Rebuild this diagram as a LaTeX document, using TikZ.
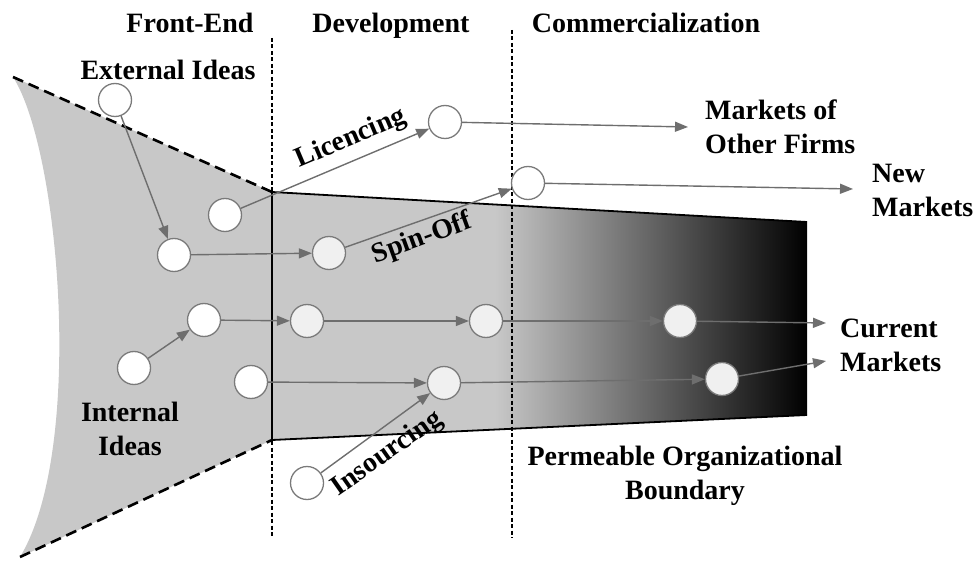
\documentclass[tikz,border=0pt]{standalone}
\usepackage{fontspec}
\setmainfont{Liberation Serif}
\usetikzlibrary{arrows.meta}
\definecolor{funnelgray}{HTML}{C8C8C8}
\definecolor{circgray}{HTML}{7A7A7A}
\definecolor{arrowgray}{HTML}{6E6E6E}
\definecolor{devfill}{HTML}{F0F0F0}
\definecolor{midgray}{HTML}{555555}
\begin{document}
\begin{tikzpicture}[x=1pt,y=-1pt,
  idea/.style={circle,draw=circgray,line width=1.3pt,fill=white,minimum size=33pt,inner sep=0pt},
  devidea/.style={idea,fill=devfill},
  flow/.style={draw=arrowgray,line width=1.4pt,-{Triangle[length=13pt,width=10pt]}},
  txt/.style={font=\fontsize{28}{34}\selectfont\bfseries,inner sep=0pt},
  bdash/.style={line width=2.6pt,dash pattern=on 11pt off 6pt},
  vdash/.style={line width=1.1pt,dash pattern=on 4pt off 2.5pt},
]
\useasboundingbox (0,0) rectangle (979,561);
% funnel (front-end)
\fill[funnelgray] (13,77) -- (272,192) -- (272,440) -- (20,557)
  .. controls (85,450) and (60,150) .. (13,77) -- cycle;
% organisation body with gradient
\begin{scope}
  \clip (272,192) -- (807,222) -- (807,415) -- (272,440) -- cycle;
  \fill[funnelgray] (270,180) rectangle (500,450);
  \shade[left color=funnelgray, middle color=midgray, right color=black] (495,180) rectangle (808,450);
\end{scope}
\draw[line width=1.8pt] (807,222) -- (272,192) -- (272,440) -- (807,415);
% permeable boundaries
\draw[bdash] (13,77) -- (272,192);
\draw[bdash] (20,557) -- (272,440);
\draw[vdash] (272,38) -- (272,538);
\draw[vdash] (512,30) -- (512,538);
% headers
\node[txt,anchor=base] (hfe) at (190,33) {Front-End};
\node[txt,anchor=base] (hdev) at (391,33) {Development};
\node[txt,anchor=base] (hcom) at (646,33) {Commercialization};
% ideas
\node[idea] (e1) at (115,100) {};
\node[idea] (lsrc) at (225,215) {};
\node[idea] (e2) at (174,255) {};
\node[devidea] (d1) at (329,253) {};
\node[idea] (lic) at (445,122) {};
\node[idea] (spin) at (528,183) {};
\node[idea] (i2) at (204,320) {};
\node[idea] (i1) at (134,368) {};
\node[devidea] (d2) at (307,321) {};
\node[devidea] (d3) at (486,321) {};
\node[devidea] (c1) at (680,321) {};
\node[idea] (i3) at (251,382) {};
\node[devidea] (d4) at (444,383) {};
\node[devidea] (c2) at (722,379) {};
\node[idea] (ins) at (307,483) {};
% market end points
\coordinate (mof) at (688,127);
\coordinate (nm) at (853,189);
\coordinate (cm1) at (826,323);
\coordinate (cm2) at (826,361);
% flows
\draw[flow] (e1) -- (e2);
\draw[flow] (e2) -- (d1);
\draw[flow] (lsrc) -- (lic);
\draw[flow] (d1) -- (spin);
\draw[flow] (lic) -- (mof);
\draw[flow] (spin) -- (nm);
\draw[flow] (i1) -- (i2);
\draw[flow] (i2) -- (d2);
\draw[flow] (d2) -- (d3);
\draw[flow] (d3) -- (c1);
\draw[flow] (c1) -- (cm1);
\draw[flow] (i3) -- (d4);
\draw[flow] (d4) -- (c2);
\draw[flow] (c2) -- (cm2);
\draw[flow] (ins) -- (d4);
% labels
\node[txt,anchor=base] (lext) at (168,80) {External Ideas};
\node[txt,anchor=north,align=center] (lint) at (130,402) {Internal\\Ideas};
\node[txt,anchor=north west,align=left] (lmof) at (705,100) {Markets of\\Other Firms};
\node[txt,anchor=north west,align=left] (lnm) at (872,164) {New\\Markets};
\node[txt,anchor=north west,align=left] (lcm) at (840,319) {Current\\Markets};
\node[txt,anchor=north,align=center] (lpob) at (685,446) {Permeable Organizational\\Boundary};
\node[txt,rotate=23] (llic) at (351,139) {Licencing};
\node[txt,rotate=20] (lspin) at (422,239) {Spin-Off};
\node[txt,rotate=35] (lins) at (387,454) {Insourcing};
\end{tikzpicture}
\end{document}
